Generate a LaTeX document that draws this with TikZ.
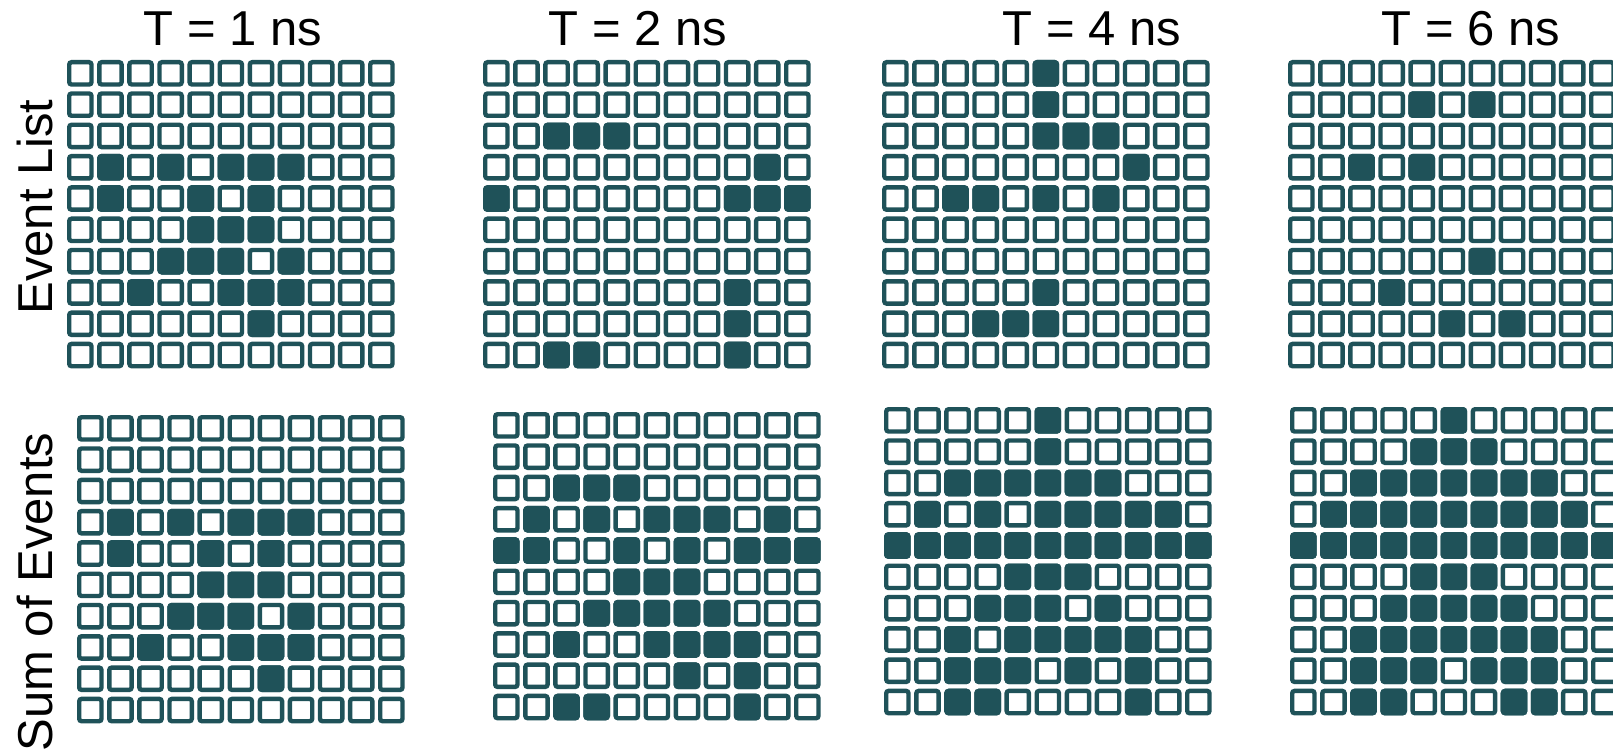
\documentclass[tikz,border=0pt]{standalone}
\usepackage{fontspec}
\setmainfont{Liberation Sans}
\definecolor{evcell}{RGB}{31,82,89}

\newcommand{\eventgrid}[3]{%
  \foreach \r in {1,...,10}
    \foreach \c in {1,...,11}
      \draw[cell] ({#1+(\c-1)*30.1+2.2},{#2+(\r-1)*31.3+2.2}) rectangle ++(22.3,22.3);
  \foreach \r/\cs in {#3}
    \foreach \c in \cs
      \draw[cell, fill=evcell] ({#1+(\c-1)*30.1+2.2},{#2+(\r-1)*31.3+2.2}) rectangle ++(22.3,22.3);
}

\begin{document}
\begin{tikzpicture}[
  x = 0.5pt, y = -0.5pt,
  cell/.style  = {draw=evcell, line width=2.2pt, rounded corners=1.2pt, fill=white},
  title/.style = {font=\fontsize{24.5}{28}\selectfont, anchor=base},
  side/.style  = {title, rotate=90}
]
  \useasboundingbox (0,0) rectangle (1613,749);

  \node[title] (t1) at (233,46)  {T = 1 ns};
  \node[title] (t2) at (638,46)  {T = 2 ns};
  \node[title] (t4) at (1092,46) {T = 4 ns};
  \node[title] (t6) at (1471,46) {T = 6 ns};

  \node[side] (evlist) at (53,207) {Event List};
  \node[side] (evsum)  at (53,592) {Sum of Events};

  % event list
  \eventgrid{67}{60}{4/{2,4,6,7,8}, 5/{2,5,7}, 6/{5,6,7}, 7/{4,5,6,8}, 8/{3,6,7,8}, 9/{7}}
  \eventgrid{483}{60}{3/{3,4,5}, 4/{10}, 5/{1,9,10,11}, 8/{9}, 9/{9}, 10/{3,4,9}}
  \eventgrid{882}{60}{1/{6}, 2/{6}, 3/{6,7,8}, 4/{9}, 5/{3,4,6,8}, 8/{6}, 9/{4,5,6}}
  \eventgrid{1288}{60}{2/{5,7}, 4/{3,5}, 7/{7}, 8/{4}, 9/{6,8}}

  % sum of events
  \eventgrid{77}{415}{4/{2,4,6,7,8}, 5/{2,5,7}, 6/{5,6,7}, 7/{4,5,6,8}, 8/{3,6,7,8}, 9/{7}}
  \eventgrid{493}{412}{3/{3,4,5}, 4/{2,4,6,7,8,10}, 5/{1,2,5,7,9,10,11}, 6/{5,6,7},
    7/{4,5,6,7,8}, 8/{3,6,7,8,9}, 9/{7,9}, 10/{3,4,9}}
  \eventgrid{884}{407}{1/{6}, 2/{6}, 3/{3,4,5,6,7,8}, 4/{2,4,6,7,8,9,10}, 5/{1,...,11},
    6/{5,6,7}, 7/{4,5,6,8}, 8/{3,5,6,7,8,9}, 9/{3,4,5,7,9}, 10/{3,4,9}}
  \eventgrid{1290}{407}{1/{6}, 2/{5,6,7}, 3/{3,...,9}, 4/{2,...,10}, 5/{1,...,11},
    6/{5,6,7}, 7/{4,5,6,7,8}, 8/{3,...,9}, 9/{3,4,5,7,8,9}, 10/{3,4,8,9}}
\end{tikzpicture}
\end{document}
